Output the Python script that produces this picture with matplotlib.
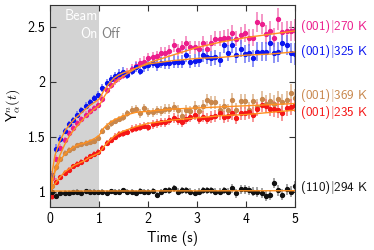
import numpy as np
import matplotlib
matplotlib.use("Agg")
import matplotlib.pyplot as plt
import matplotlib.transforms as mtransforms
from matplotlib.ticker import FuncFormatter

plt.rcParams["font.family"] = ["cmss10", "DejaVu Sans"]
plt.rcParams["mathtext.fontset"] = "cm"
plt.rcParams["axes.unicode_minus"] = False
plt.rcParams["axes.formatter.use_mathtext"] = False

# time bins (s), one point per bin
time = np.arange(59) * 0.0855 + 0.04

labels = ["(001)$|$270 K", "(001)$|$325 K", "(001)$|$369 K", "(001)$|$235 K", "(110)$|$294 K"]
colors = ["#ec1c8c", "#0a14f0", "#c8874c", "#f51616", "#111111"]
bar_colors = ["#f27ab8", "#6f77f5", "#ddb38c", "#f77a7a", "#8a8a8a"]
label_y = [2.50, 2.27, 1.87, 1.715, 1.04]

pink = [1.12, 1.30, 1.40, 1.47, 1.53, 1.58, 1.62, 1.66, 1.70, 1.73, 1.76, 1.79,
        1.84, 1.92, 1.97, 2.01, 2.04, 2.06, 2.08, 2.11, 2.14, 2.17, 2.18, 2.21,
        2.22, 2.23, 2.26, 2.26, 2.28, 2.33, 2.29, 2.31, 2.35, 2.31, 2.31, 2.30,
        2.35, 2.30, 2.35, 2.39, 2.39, 2.40, 2.40, 2.44, 2.39, 2.42, 2.44, 2.40,
        2.40, 2.54, 2.52, 2.43, 2.46, 2.40, 2.57, 2.45, 2.46, 2.46, 2.47]
blue = [1.15, 1.39, 1.48, 1.55, 1.61, 1.65, 1.70, 1.74, 1.78, 1.81, 1.85, 1.88,
        1.94, 1.99, 2.02, 2.05, 2.07, 2.09, 2.06, 2.10, 2.13, 2.10, 2.14, 2.15,
        2.17, 2.15, 2.17, 2.17, 2.17, 2.18, 2.18, 2.18, 2.24, 2.18, 2.19, 2.20,
        2.24, 2.22, 2.21, 2.22, 2.20, 2.33, 2.26, 2.33, 2.24, 2.30, 2.25, 2.26,
        2.21, 2.27, 2.27, 2.27, 2.35, 2.26, 2.27, 2.35, 2.33, 2.26, 2.25]
brown = [1.05, 1.22, 1.30, 1.35, 1.38, 1.40, 1.42, 1.43, 1.44, 1.45, 1.46, 1.49,
         1.55, 1.59, 1.62, 1.64, 1.66, 1.68, 1.71, 1.74, 1.75, 1.71, 1.76, 1.72,
         1.72, 1.74, 1.73, 1.75, 1.75, 1.77, 1.74, 1.69, 1.74, 1.73, 1.77, 1.73,
         1.78, 1.83, 1.81, 1.81, 1.74, 1.78, 1.74, 1.83, 1.74, 1.82, 1.82, 1.74,
         1.82, 1.77, 1.84, 1.80, 1.82, 1.80, 1.84, 1.81, 1.83, 1.90, 1.85]
red = [0.96, 1.09, 1.13, 1.17, 1.20, 1.23, 1.25, 1.27, 1.30, 1.32, 1.34, 1.36,
       1.40, 1.44, 1.47, 1.50, 1.52, 1.53, 1.54, 1.57, 1.58, 1.59, 1.60, 1.59,
       1.61, 1.62, 1.63, 1.63, 1.65, 1.67, 1.65, 1.63, 1.66, 1.68, 1.70, 1.66,
       1.68, 1.66, 1.68, 1.69, 1.71, 1.68, 1.69, 1.71, 1.67, 1.71, 1.71, 1.72,
       1.70, 1.75, 1.79, 1.78, 1.75, 1.75, 1.74, 1.71, 1.76, 1.77, 1.79]
black = [1.00, 0.96, 0.985, 0.99, 0.99, 0.995, 1.00, 0.99, 1.005, 1.00, 1.00, 0.995,
         1.00, 0.99, 1.005, 1.00, 1.00, 1.015, 1.00, 0.995, 0.99, 1.005, 1.00, 1.00,
         1.005, 0.97, 1.00, 1.01, 1.01, 1.03, 1.00, 1.01, 1.01, 1.00, 0.99, 1.00,
         1.01, 1.01, 1.01, 1.00, 1.00, 1.01, 1.00, 1.03, 0.985, 1.02, 1.02, 1.01,
         1.00, 1.00, 0.99, 0.96, 0.97, 1.08, 1.01, 0.97, 1.02, 1.00, 1.05]

# error bars (half widths)
pink_err = [0.03, 0.03, 0.03, 0.03, 0.03, 0.03, 0.03, 0.03, 0.03, 0.03, 0.03, 0.03,
            0.035, 0.035, 0.035, 0.04, 0.04, 0.04, 0.04, 0.045, 0.045, 0.045, 0.05, 0.05,
            0.05, 0.05, 0.05, 0.055, 0.055, 0.06, 0.055, 0.06, 0.06, 0.06, 0.06, 0.065,
            0.06, 0.065, 0.07, 0.07, 0.07, 0.07, 0.075, 0.075, 0.07, 0.08, 0.08, 0.08,
            0.08, 0.09, 0.09, 0.085, 0.09, 0.09, 0.10, 0.09, 0.09, 0.09, 0.10]
blue_err = [0.04, 0.04, 0.035, 0.03, 0.03, 0.03, 0.03, 0.03, 0.03, 0.03, 0.03, 0.03,
            0.035, 0.035, 0.035, 0.04, 0.04, 0.04, 0.04, 0.045, 0.045, 0.045, 0.05, 0.05,
            0.05, 0.05, 0.05, 0.055, 0.055, 0.06, 0.055, 0.06, 0.06, 0.06, 0.06, 0.065,
            0.06, 0.065, 0.07, 0.07, 0.07, 0.07, 0.075, 0.075, 0.07, 0.08, 0.08, 0.08,
            0.08, 0.085, 0.085, 0.085, 0.09, 0.09, 0.09, 0.09, 0.09, 0.09, 0.10]
brown_err = [0.03, 0.03, 0.025, 0.025, 0.025, 0.025, 0.025, 0.025, 0.025, 0.025, 0.025, 0.025,
             0.03, 0.03, 0.03, 0.03, 0.03, 0.035, 0.035, 0.035, 0.035, 0.04, 0.04, 0.04,
             0.04, 0.04, 0.045, 0.045, 0.045, 0.045, 0.05, 0.05, 0.05, 0.05, 0.05, 0.055,
             0.055, 0.055, 0.055, 0.06, 0.06, 0.06, 0.06, 0.065, 0.065, 0.065, 0.065, 0.07,
             0.07, 0.07, 0.07, 0.075, 0.075, 0.075, 0.075, 0.08, 0.08, 0.08, 0.08]
red_err = [0.04, 0.03, 0.025, 0.025, 0.025, 0.025, 0.025, 0.025, 0.025, 0.025, 0.025, 0.025,
           0.025, 0.025, 0.03, 0.03, 0.03, 0.03, 0.03, 0.035, 0.035, 0.035, 0.035, 0.04,
           0.04, 0.04, 0.04, 0.04, 0.045, 0.045, 0.045, 0.045, 0.045, 0.05, 0.05, 0.05,
           0.05, 0.05, 0.055, 0.055, 0.055, 0.055, 0.055, 0.06, 0.06, 0.06, 0.06, 0.06,
           0.065, 0.065, 0.065, 0.065, 0.065, 0.07, 0.07, 0.07, 0.07, 0.07, 0.07]
black_err = [0.03, 0.03, 0.02, 0.02, 0.02, 0.02, 0.02, 0.02, 0.02, 0.02, 0.02, 0.02,
             0.02, 0.02, 0.02, 0.02, 0.02, 0.02, 0.02, 0.025, 0.025, 0.025, 0.025, 0.025,
             0.025, 0.025, 0.025, 0.025, 0.03, 0.03, 0.03, 0.03, 0.03, 0.03, 0.03, 0.03,
             0.035, 0.035, 0.035, 0.035, 0.035, 0.035, 0.035, 0.04, 0.04, 0.04, 0.04, 0.04,
             0.04, 0.045, 0.045, 0.045, 0.045, 0.045, 0.05, 0.05, 0.05, 0.05, 0.05]

# fitted curves (orange)
fit_time = [0, 0.05, 0.1, 0.2, 0.3, 0.4, 0.5, 0.6, 0.7, 0.8, 0.9, 1.0,
            1.1, 1.2, 1.3, 1.4, 1.5, 1.75, 2.0, 2.5, 3.0, 3.5, 4.0, 4.5, 5.0]
pink_fit = [1.0, 1.10, 1.20, 1.33, 1.43, 1.51, 1.57, 1.62, 1.67, 1.71, 1.75, 1.78,
            1.86, 1.93, 1.98, 2.02, 2.05, 2.12, 2.17, 2.24, 2.31, 2.36, 2.40, 2.43, 2.46]
blue_fit = [1.0, 1.20, 1.33, 1.46, 1.55, 1.61, 1.66, 1.70, 1.74, 1.78, 1.81, 1.84,
            1.92, 1.98, 2.03, 2.06, 2.08, 2.12, 2.16, 2.19, 2.21, 2.22, 2.24, 2.25, 2.27]
brown_fit = [1.0, 1.10, 1.18, 1.28, 1.34, 1.38, 1.41, 1.43, 1.44, 1.46, 1.48, 1.51,
             1.58, 1.62, 1.65, 1.67, 1.69, 1.72, 1.73, 1.75, 1.76, 1.77, 1.78, 1.79, 1.80]
red_fit = [1.0, 1.03, 1.07, 1.13, 1.18, 1.21, 1.24, 1.26, 1.28, 1.31, 1.33, 1.35,
           1.41, 1.46, 1.50, 1.53, 1.55, 1.59, 1.62, 1.65, 1.67, 1.69, 1.70, 1.72, 1.74]
black_fit_time = [0, 5.0]
black_fit = [1.005, 1.008]

series = [pink, blue, brown, red, black]
errors = [pink_err, blue_err, brown_err, red_err, black_err]
fits = [(fit_time, pink_fit), (fit_time, blue_fit), (fit_time, brown_fit),
        (fit_time, red_fit), (black_fit_time, black_fit)]

fig = plt.figure(figsize=(3.74, 2.5), dpi=100)
ax = fig.add_axes([0.134, 0.172, 0.655, 0.81])

ax.axvspan(0, 1, color="#d3d3d3", lw=0, zorder=0)

for vals, err, c, bc in zip(series, errors, colors, bar_colors):
    ax.errorbar(time, vals, yerr=err, fmt="o", ms=2.8, mec=c, mfc=c,
                ecolor=bc, elinewidth=1.1, capsize=0, zorder=2)

for (ft, fv) in fits:
    ax.plot(ft, fv, color="#ff9020", lw=1.0, zorder=2.5)

trans = mtransforms.blended_transform_factory(ax.transAxes, ax.transData)
for lab, y, c in zip(labels, label_y, colors):
    ax.text(1.02, y, lab, color=c, fontsize=9.5, va="center", ha="left",
            transform=trans, clip_on=False)

ax.text(0.97, 2.60, "Beam", color="white", fontsize=10, ha="right", va="center")
ax.text(0.97, 2.435, "On", color="white", fontsize=10, ha="right", va="center")
ax.text(1.05, 2.435, "Off", color="#808080", fontsize=10, ha="left", va="center")

ax.set_xlim(0, 5)
ax.set_ylim(0.86, 2.7)
ax.set_xticks([0, 1, 2, 3, 4, 5])
ax.set_yticks([1, 1.5, 2, 2.5])
ax.yaxis.set_major_formatter(FuncFormatter(lambda v, p: f"{v:g}"))
ax.tick_params(direction="in", top=True, right=True, length=4, width=0.8,
               labelsize=10, color="#333333")
for s in ax.spines.values():
    s.set_linewidth(0.8)
    s.set_color("#333333")

ax.set_xlabel("Time (s)", fontsize=10, labelpad=4)
ax.set_ylabel(r"$\mathsf{Y}^{n}_{\alpha}(t)$", fontsize=10, labelpad=4)

fig.savefig("out.png", dpi=100)
